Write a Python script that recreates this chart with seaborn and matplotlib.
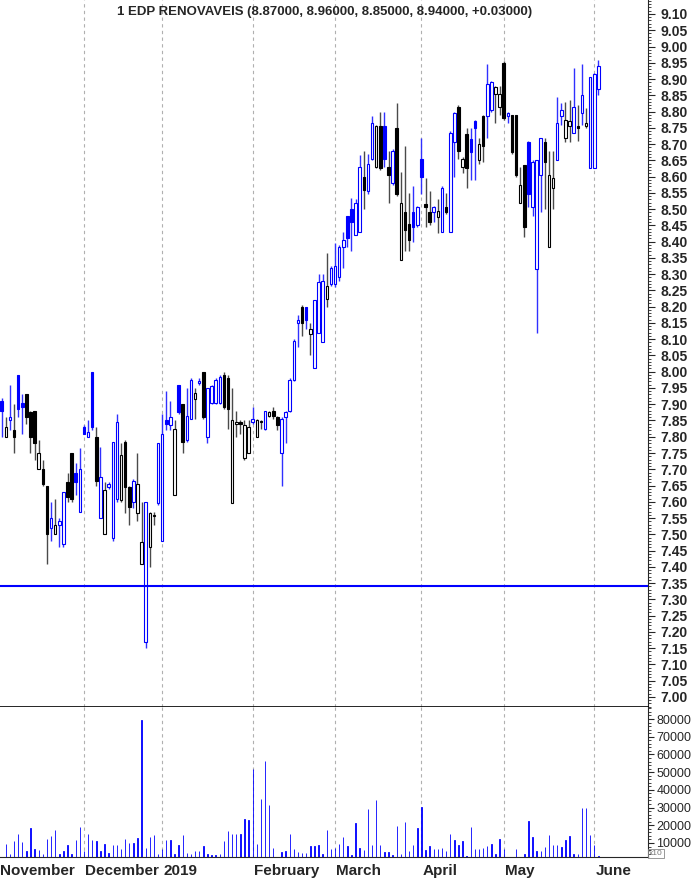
import numpy as np
import pandas as pd
import seaborn as sns
import matplotlib.pyplot as plt
import matplotlib.transforms as mtransforms

# daily OHLC + volume, EDP Renovaveis, Nov 2018 -> June 2019
holidays = ['2018-12-25', '2018-12-26', '2019-01-01', '2019-04-19', '2019-04-22', '2019-05-01']
dates = pd.bdate_range('2018-11-05', '2019-06-04')
dates = dates[~dates.isin(pd.to_datetime(holidays))]

opens = [7.91, 7.80, 7.85, 7.82, 7.99, 7.905, 7.93, 7.875, 7.88, 7.70, 7.70, 7.65, 7.52, 7.50, 7.53, 7.47, 7.66, 7.75, 7.69, 7.57,
         7.83, 7.80, 8.00, 7.80, 7.55, 7.50, 7.645, 7.49, 7.61, 7.605, 7.785, 7.645, 7.60, 7.565, 7.41, 7.17, 7.46, 7.555, 7.595,
         7.48, 7.85, 7.835, 7.62, 7.96, 7.90, 7.79, 7.855, 7.915, 7.965, 8.00, 7.80, 7.905, 7.905, 7.905, 7.99, 7.98, 7.595, 7.84, 7.845, 7.735, 7.75,
         7.845, 7.80, 7.845, 7.825, 7.865, 7.88, 7.86, 7.75, 7.86, 7.88, 7.975, 8.15, 8.20, 8.20, 8.115, 8.01, 8.12, 8.09, 8.225, 8.27,
         8.27, 8.29, 8.385, 8.48, 8.50, 8.42, 8.43, 8.60, 8.555, 8.655, 8.63, 8.755, 8.755, 8.63, 8.58, 8.75, 8.345, 8.49, 8.455, 8.49, 8.45,
         8.655, 8.515, 8.49, 8.49, 8.475, 8.43, 8.505, 8.43, 8.705, 8.815, 8.63, 8.73, 8.715, 8.77, 8.65, 8.785, 8.785, 8.805, 8.855, 8.815,
         8.95, 8.785, 8.79, 8.79, 8.52, 8.635, 8.705, 8.505, 8.315, 8.605, 8.705, 8.385, 8.565, 8.65, 8.785, 8.72, 8.755, 8.735, 8.755, 8.795, 8.755, 8.625,
         8.625, 8.87]
highs = [7.92, 7.86, 7.96, 7.90, 7.99, 7.93, 7.93, 7.88, 7.88, 7.79, 7.73, 7.65, 7.60, 7.61, 7.55, 7.63, 7.69, 7.75, 7.72, 7.765,
         7.835, 7.85, 8.00, 7.83, 7.77, 7.66, 7.66, 7.785, 7.87, 7.78, 7.79, 7.65, 7.67, 7.75, 7.60, 7.60, 7.57, 7.57, 7.78,
         7.87, 7.94, 7.91, 7.85, 7.96, 7.90, 7.95, 7.98, 7.95, 7.98, 8.00, 7.95, 7.96, 7.98, 7.99, 8.00, 7.99, 7.95, 7.88, 7.85, 7.85, 7.85,
         7.89, 7.855, 7.85, 7.88, 7.88, 7.89, 7.865, 7.86, 7.88, 7.98, 8.10, 8.175, 8.205, 8.20, 8.15, 8.22, 8.30, 8.30, 8.365, 8.325,
         8.395, 8.39, 8.43, 8.48, 8.535, 8.53, 8.665, 8.68, 8.67, 8.785, 8.76, 8.80, 8.80, 8.68, 8.685, 8.825, 8.615, 8.695, 8.55, 8.57, 8.51,
         8.72, 8.595, 8.555, 8.51, 8.53, 8.57, 8.55, 8.74, 8.80, 8.82, 8.66, 8.75, 8.75, 8.775, 8.72, 8.79, 8.945, 8.895, 8.88, 8.88,
         8.955, 8.80, 8.79, 8.79, 8.63, 8.635, 8.71, 8.65, 8.65, 8.72, 8.72, 8.68, 8.68, 8.845, 8.825, 8.83, 8.835, 8.935, 8.82, 8.945, 8.81, 8.905,
         8.92, 8.96]
lows = [7.80, 7.80, 7.82, 7.75, 7.86, 7.81, 7.84, 7.75, 7.73, 7.70, 7.65, 7.41, 7.48, 7.50, 7.46, 7.46, 7.60, 7.60, 7.62, 7.57,
        7.81, 7.80, 7.82, 7.65, 7.55, 7.50, 7.64, 7.48, 7.60, 7.60, 7.565, 7.53, 7.58, 7.54, 7.41, 7.15, 7.40, 7.53, 7.59,
        7.48, 7.82, 7.82, 7.62, 7.87, 7.75, 7.785, 7.855, 7.855, 7.96, 7.855, 7.78, 7.90, 7.90, 7.90, 7.885, 7.825, 7.595, 7.80, 7.81, 7.73, 7.75,
        7.84, 7.80, 7.825, 7.82, 7.86, 7.855, 7.82, 7.65, 7.78, 7.875, 7.97, 8.075, 8.11, 8.13, 8.05, 8.01, 8.12, 8.09, 8.20, 8.265,
        8.26, 8.28, 8.32, 8.385, 8.37, 8.42, 8.43, 8.50, 8.545, 8.65, 8.625, 8.62, 8.63, 8.52, 8.575, 8.54, 8.345, 8.37, 8.37, 8.40, 8.445,
        8.545, 8.445, 8.45, 8.46, 8.425, 8.43, 8.485, 8.43, 8.60, 8.655, 8.61, 8.565, 8.59, 8.59, 8.64, 8.645, 8.72, 8.80, 8.765, 8.79,
        8.775, 8.765, 8.67, 8.60, 8.52, 8.415, 8.505, 8.48, 8.12, 8.49, 8.50, 8.385, 8.50, 8.65, 8.76, 8.705, 8.705, 8.735, 8.71, 8.76, 8.75, 8.625,
        8.625, 8.85]
closes = [7.88, 7.83, 7.86, 7.80, 7.885, 7.89, 7.86, 7.80, 7.78, 7.75, 7.655, 7.50, 7.55, 7.53, 7.54, 7.63, 7.615, 7.61, 7.66, 7.70,
          7.81, 7.815, 7.83, 7.665, 7.675, 7.635, 7.655, 7.785, 7.845, 7.745, 7.645, 7.585, 7.665, 7.655, 7.475, 7.60, 7.565, 7.56, 7.78,
          7.81, 7.84, 7.86, 7.825, 7.875, 7.785, 7.865, 7.975, 7.935, 7.97, 7.86, 7.95, 7.955, 7.975, 7.985, 7.89, 7.885, 7.85, 7.845, 7.84, 7.835, 7.83,
          7.855, 7.85, 7.845, 7.88, 7.875, 7.865, 7.835, 7.855, 7.875, 7.975, 8.095, 8.16, 8.15, 8.16, 8.13, 8.22, 8.275, 8.28, 8.265, 8.32,
          8.325, 8.385, 8.405, 8.41, 8.46, 8.52, 8.63, 8.56, 8.64, 8.765, 8.755, 8.625, 8.655, 8.605, 8.68, 8.545, 8.52, 8.435, 8.405, 8.445, 8.505,
          8.60, 8.505, 8.46, 8.505, 8.495, 8.565, 8.49, 8.735, 8.795, 8.68, 8.655, 8.625, 8.675, 8.75, 8.70, 8.695, 8.885, 8.89, 8.875, 8.855,
          8.78, 8.795, 8.675, 8.605, 8.575, 8.445, 8.545, 8.645, 8.65, 8.72, 8.645, 8.605, 8.595, 8.765, 8.805, 8.775, 8.77, 8.815, 8.75, 8.85, 8.765, 8.905,
          8.915, 8.94]
volumes = [2000, 9600, 3970, 11100, 15300, 10600, 5300, 18700, 6400, 5900, 3600, 12400, 14000, 17500, 3600, 5300, 8700, 3600, 11900, 19000,
           5300, 15300, 11500, 10900, 5300, 9600, 4500, 9000, 8700, 6400, 12400, 10200, 10200, 13000, 79300, 7400, 13400, 14700, 3600,
           6800, 11500, 11500, 3970, 8700, 14300, 4500, 3970, 5300, 5300, 8100, 3970, 3400, 3000, 3600, 10900, 16600, 15300, 15300, 15300, 23700, 23200,
           52000, 9600, 35000, 56100, 31300, 7400, 2200, 4900, 5300, 15300, 6800, 4900, 4500, 4500, 8100, 8100, 9000, 3600, 17500, 6400,
           7200, 9600, 13400, 8300, 3000, 21300, 7400, 5900, 29200, 8700, 34100, 8700, 4700, 4700, 3000, 19800, 3970, 22000, 5300, 8700, 18700,
           30300, 5900, 8100, 6400, 6400, 7200, 5300, 15300, 11900, 8700, 10900, 2600, 19000, 6400, 6400, 7200, 8300, 9400, 3600, 12400,
           6400, 1500, 1500, 6800, 1500, 3970, 22400, 13200, 5300, 5300, 7600, 14700, 9000, 9000, 7600, 11900, 14000, 3970, 3600, 29600, 29600, 14700,
           9000, 2600]

df = pd.DataFrame({'date': dates, 'open': opens, 'high': highs, 'low': lows,
                   'close': closes, 'volume': volumes})
df['i'] = np.arange(len(df))
prev = df['close'].shift(1).fillna(df['close'])
df['up'] = df['close'] >= prev          # blue when close >= previous close
df['hollow'] = df['close'] >= df['open']

BLUE = '#0000ff'
sns.set_style('white')
plt.rcParams['font.family'] = ['Liberation Sans', 'DejaVu Sans']

fig = plt.figure(figsize=(6.94, 8.80), dpi=100)
ax = fig.add_axes([0, 1 - 707 / 880, 648 / 694, 707 / 880])
axv = fig.add_axes([0, 1 - 857 / 880, 648 / 694, 150 / 880])

xmin, xmax = -0.41, 157.06

# month starts / weekly ticks
month_first = df.groupby(df['date'].dt.to_period('M'))['i'].min()
week_first = df.groupby(df['date'].dt.to_period('W'))['i'].min()
month_names = ['November', 'December', '2019', 'February', 'March', 'April', 'May', 'June']

for a in (ax, axv):
    for m in month_first.values[1:]:
        a.axvline(m, color='#b0b0b0', lw=0.8, ls=(0, (3, 3)), zorder=0)

# candles
wick_col = np.where(df['up'], '#3030ff', '#4a4a4a')
ax.vlines(df['i'], df['low'], df['high'], colors=wick_col, lw=1.0, zorder=1)
body_col = np.where(df['up'], BLUE, 'black')
face_col = [('white' if h else c) for h, c in zip(df['hollow'], body_col)]
height = np.maximum((df['close'] - df['open']).abs(), 0.003)
bottom = np.minimum(df['open'], df['close'])
ax.bar(df['i'], height, bottom=bottom, width=0.62, color=face_col,
       edgecolor=body_col, linewidth=0.8, zorder=2)

ax.axhline(7.341, color=BLUE, lw=1.5, zorder=3)

ax.set_xlim(xmin, xmax)
ax.set_ylim(6.969, 9.143)
ax.yaxis.tick_right()
ax.set_yticks(np.round(np.arange(7.0, 9.1001, 0.05), 2))
ax.set_yticklabels([f'{v:.2f}' for v in np.arange(7.0, 9.1001, 0.05)])
ax.set_yticks(np.round(np.arange(6.97, 9.14, 0.01), 2), minor=True)
ax.tick_params(axis='y', which='major', direction='out', length=5, width=0.8,
               labelsize=10, pad=4, right=True, left=False)
ax.tick_params(axis='y', which='minor', direction='out', length=2.5, width=0.6, right=True)
for t in ax.get_yticklabels():
    t.set_fontweight('bold')
ax.set_xticks([])
for s in ('top', 'left'):
    ax.spines[s].set_visible(False)
ax.spines['right'].set_linewidth(0.8)
ax.spines['bottom'].set_linewidth(1.2)
ax.spines['bottom'].set_color('black')

# volume panel
sns.barplot(x='i', y='volume', data=df, ax=axv, color=BLUE, width=0.1,
            saturation=1, native_scale=True, edgecolor=BLUE, linewidth=0.6, zorder=2)
axv.set_xlim(xmin, xmax)
axv.set_ylim(2090, 86780)
axv.set_xlabel('')
axv.set_ylabel('')
axv.yaxis.tick_right()
axv.set_yticks(np.arange(10000, 80001, 10000))
axv.set_yticks(np.arange(4000, 86001, 2000), minor=True)
axv.tick_params(axis='y', which='major', direction='out', length=4, width=0.8,
                labelsize=9, pad=2, right=True, left=False)
axv.tick_params(axis='y', which='minor', direction='out', length=2.5, width=0.6, right=True)
axv.set_xticks(week_first.values)
axv.set_xticklabels([])
axv.set_xticks(month_first.values[1:], minor=True)
axv.tick_params(axis='x', which='major', direction='out', length=5, width=0.8, color='#333333')
axv.tick_params(axis='x', which='minor', direction='out', length=17, width=0.9, color='#333333')
for s in ('top', 'left'):
    axv.spines[s].set_visible(False)
axv.spines['right'].set_linewidth(0.8)
axv.spines['bottom'].set_linewidth(0.8)

axv.text(1.002, 0.0, 'x10', transform=axv.transAxes, fontsize=6, color='#777777',
         ha='left', va='bottom',
         bbox=dict(boxstyle='square,pad=0.12', fc='none', ec='#888888', lw=0.6))

# month labels under the volume panel
trans = mtransforms.blended_transform_factory(axv.transData, axv.transAxes)
starts = [xmin + 0.05] + list(month_first.values[1:] + 0.35)
for x, name in zip(starts, month_names):
    axv.text(x, -0.095, name, transform=trans, ha='left', va='center',
             fontsize=11, fontweight='bold', clip_on=False)

fig.text(325 / 694, 1 - 12 / 880,
         '1 EDP RENOVAVEIS (8.87000, 8.96000, 8.85000, 8.94000, +0.03000)',
         ha='center', va='center', fontsize=9.5, fontweight='bold')

fig.savefig('out.png', dpi=100)
